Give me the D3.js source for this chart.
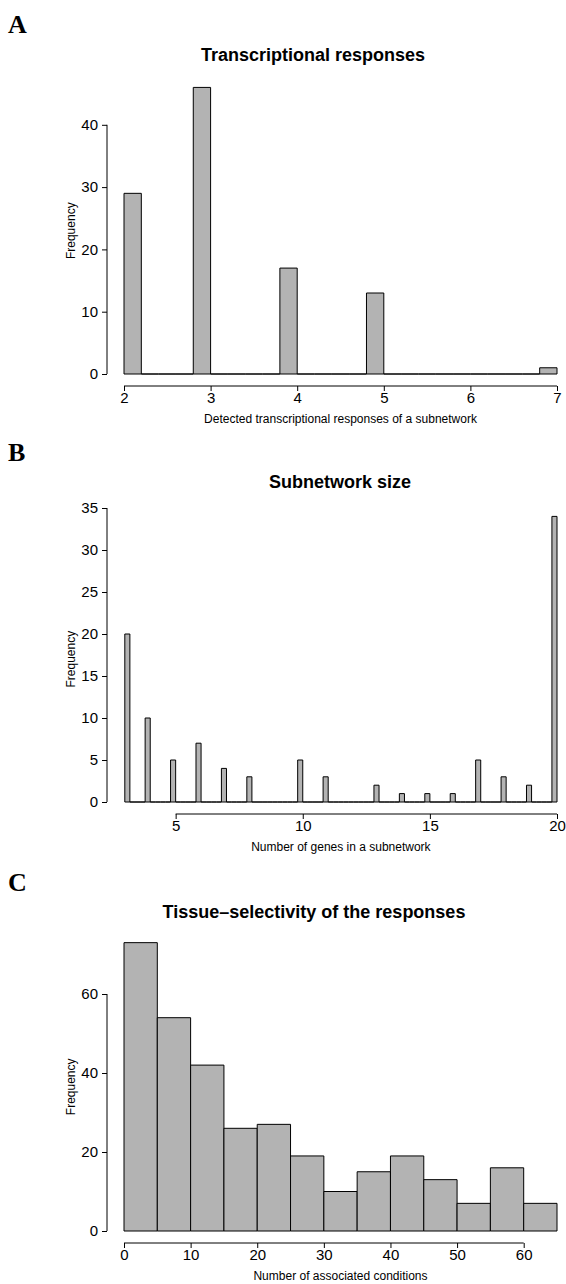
<!DOCTYPE html>
<html>
<head>
<meta charset="utf-8">
<script src="https://cdn.jsdelivr.net/npm/d3@7"></script>
<style>
  body { margin: 0; background: #fff; }
  text { font-family: "Liberation Sans", Arial, Helvetica, sans-serif; }
</style>
</head>
<body>
<div id="chart"></div>
<script>
// panel A: detected responses per subnetwork (integer values, bins of 0.2)
const respValues = [2, 3, 4, 5, 6, 7];
const respCounts = [29, 46, 17, 13, 0, 1];
const respTicksX = [2, 3, 4, 5, 6, 7];
const respTicksY = [0, 10, 20, 30, 40];

// panel B: subnetwork size
const sizeValues = [3, 4, 5, 6, 7, 8, 9, 10, 11, 12, 13, 14, 15, 16, 17, 18, 19, 20];
const sizeCounts = [20, 10, 5, 7, 4, 3, 0, 5, 3, 0, 2, 1, 1, 1, 5, 3, 2, 34];
const sizeTicksX = [5, 10, 15, 20];
const sizeTicksY = [0, 5, 10, 15, 20, 25, 30, 35];

// panel C: number of associated conditions
const condBreaks = [0, 5, 10, 15, 20, 25, 30, 35, 40, 45, 50, 55, 60, 65];
const condCounts = [73, 54, 42, 26, 27, 19, 10, 15, 19, 13, 7, 16, 7];
const condTicksX = [0, 10, 20, 30, 40, 50, 60];
const condTicksY = [0, 20, 40, 60];

const W = 566, H = 1284;
const barFill = "#b3b3b3";
const fmt = d3.format("d");

const svg = d3.select("#chart")
  .append("svg")
  .attr("width", W)
  .attr("height", H);

svg.append("rect").attr("width", W).attr("height", H).attr("fill", "#fff");

// R-like hist bins of width 0.2 on integer data: first bin closed on the left,
// the rest take the value at their right edge
function intBins(values, counts, step) {
  const lo = values[0], hi = values[values.length - 1];
  const n = Math.round((hi - lo) / step);
  const bins = [];
  for (let i = 0; i < n; i++) {
    const x0 = lo + i * step, x1 = lo + (i + 1) * step;
    let c = 0;
    if (i === 0) c = counts[0];
    else if (Math.abs(x1 - Math.round(x1)) < 1e-6) c = counts[values.indexOf(Math.round(x1))];
    bins.push({x0, x1, c});
  }
  return bins;
}

function panel(o) {
  const g = svg.append("g");

  g.append("text")
    .attr("x", 8).attr("y", o.letterY)
    .style("font-family", '"Liberation Serif", "Times New Roman", serif')
    .style("font-weight", "bold")
    .attr("font-size", 26)
    .text(o.letter);

  g.append("text")
    .attr("x", o.titleX).attr("y", o.titleY)
    .attr("text-anchor", "middle")
    .style("font-weight", "bold")
    .attr("font-size", 18)
    .text(o.title);

  // bars (zero-height bins show up as a line on the baseline)
  g.selectAll(".bar")
    .data(o.bins)
    .enter()
    .append("path")
    .attr("class", "bar")
    .attr("d", d => {
      const x0 = o.x(d.x0), x1 = o.x(d.x1), y0 = o.y(0), y1 = o.y(d.c);
      return `M${x0},${y0}V${y1}H${x1}V${y0}Z`;
    })
    .attr("fill", barFill)
    .attr("stroke", "#000")
    .attr("stroke-width", 1);

  // y axis, R style: line only between first and last tick
  const yAx = g.append("g")
    .attr("transform", `translate(${o.axisX},0)`)
    .call(d3.axisLeft(o.y).tickValues(o.ticksY).tickFormat(fmt).tickSize(5).tickPadding(4).tickSizeOuter(0));
  yAx.select(".domain").remove();
  yAx.append("line")
    .attr("y1", o.y(o.ticksY[0])).attr("y2", o.y(o.ticksY[o.ticksY.length - 1]))
    .attr("stroke", "#000");

  const xAx = g.append("g")
    .attr("transform", `translate(0,${o.axisY})`)
    .call(d3.axisBottom(o.x).tickValues(o.ticksX).tickFormat(fmt).tickSize(5).tickPadding(1).tickSizeOuter(0));
  xAx.select(".domain").remove();
  xAx.append("line")
    .attr("x1", o.x(o.ticksX[0])).attr("x2", o.x(o.ticksX[o.ticksX.length - 1]))
    .attr("stroke", "#000");

  g.selectAll(".tick text")
    .attr("font-size", 15)
    .attr("fill", "#000")
    .style("font-family", '"Liberation Sans", Arial, Helvetica, sans-serif');
  g.selectAll(".tick line").attr("stroke", "#000");

  g.append("text")
    .attr("x", (o.x.range()[0] + o.x.range()[1]) / 2)
    .attr("y", o.axisY + 37)
    .attr("text-anchor", "middle")
    .attr("font-size", 12)
    .text(o.xLabel);

  const yMid = (o.y(0) + o.y(o.yMax)) / 2;
  g.append("text")
    .attr("transform", `translate(75,${yMid}) rotate(-90)`)
    .attr("text-anchor", "middle")
    .attr("font-size", 12)
    .text("Frequency");
}

panel({
  letter: "A", letterY: 33,
  title: "Transcriptional responses", titleX: 313, titleY: 61,
  x: d3.scaleLinear().domain([2, 7]).range([124, 557]),
  y: d3.scaleLinear().domain([0, 40]).range([374, 124.8]),
  bins: intBins(respValues, respCounts, 0.2),
  ticksX: respTicksX, ticksY: respTicksY,
  axisX: 107, axisY: 386,
  yMax: d3.max(respCounts),
  xLabel: "Detected transcriptional responses of a subnetwork"
});

panel({
  letter: "B", letterY: 461,
  title: "Subnetwork size", titleX: 340, titleY: 488,
  x: d3.scaleLinear().domain([3, 20]).range([124.8, 557]),
  y: d3.scaleLinear().domain([0, 35]).range([802, 508]),
  bins: intBins(sizeValues, sizeCounts, 0.2),
  ticksX: sizeTicksX, ticksY: sizeTicksY,
  axisX: 107, axisY: 814,
  yMax: d3.max(sizeCounts),
  xLabel: "Number of genes in a subnetwork"
});

panel({
  letter: "C", letterY: 891,
  title: "Tissue\u2013selectivity of the responses", titleX: 314, titleY: 918,
  x: d3.scaleLinear().domain([0, 65]).range([124, 557]),
  y: d3.scaleLinear().domain([0, 60]).range([1231, 994]),
  bins: condCounts.map((c, i) => ({x0: condBreaks[i], x1: condBreaks[i + 1], c})),
  ticksX: condTicksX, ticksY: condTicksY,
  axisX: 107, axisY: 1243,
  yMax: d3.max(condCounts),
  xLabel: "Number of associated conditions"
});
</script>
</body>
</html>
